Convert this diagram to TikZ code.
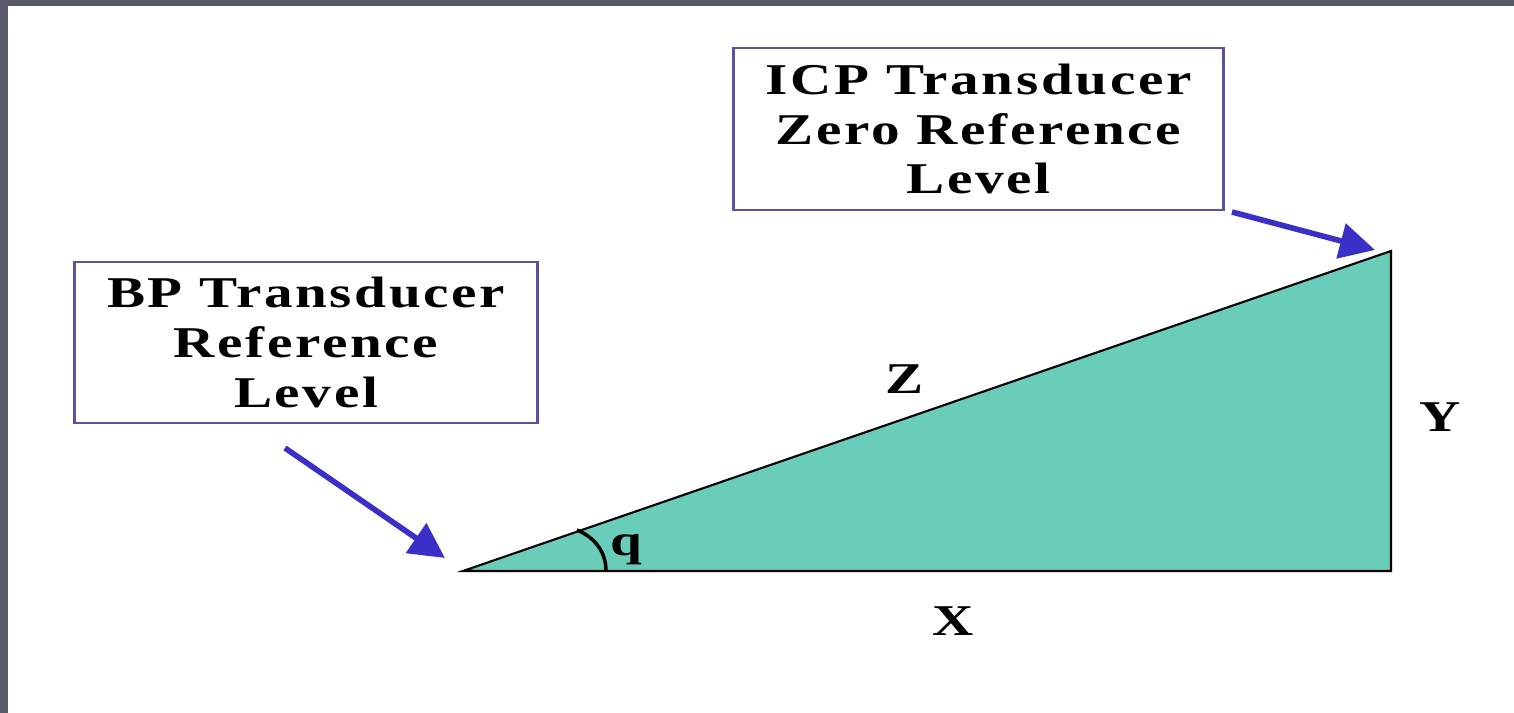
\documentclass[tikz,border=0pt]{standalone}
\usepackage{fontspec}
\setmainfont{Liberation Serif}
\newfontfamily\boxfont[LetterSpace=6,FakeStretch=1.3]{Liberation Serif}
\usetikzlibrary{arrows.meta,calc}
\definecolor{icpGray}{HTML}{585A6A}
\definecolor{icpFrame}{HTML}{5B52A3}
\definecolor{icpBlue}{HTML}{3A30C8}
\definecolor{icpTeal}{HTML}{6ACDB9}

\begin{document}
\begin{tikzpicture}[x=0.01cm,y=-0.01cm,
    font=\boxfont\bfseries\fontsize{12.5}{14.2}\selectfont,
    refbox/.style={draw=icpFrame,line width=0.8pt,align=center,inner sep=0pt},
    pointer/.style={draw=icpBlue,fill=icpBlue,line width=1.6pt,
                    -{Triangle[length=10pt,width=10pt]}},
    side/.style={inner sep=0pt,anchor=base}]
  % slide frame
  \fill[icpGray] (0,0) rectangle (1514,713);
  \fill[white] (8,6) rectangle (1514,713);
  % reference level boxes
  \node[refbox,minimum width=4.62cm,minimum height=1.61cm] (bp) at (306,342.5)
    {BP Transducer\\Reference\\Level};
  \node[refbox,minimum width=4.89cm,minimum height=1.62cm] (icp) at (978.5,129)
    {ICP Transducer\\Zero Reference\\Level};
  % triangle
  \coordinate (base) at (463,571);
  \coordinate (foot) at (1391,571);
  \coordinate (apex) at (1391,251);
  \filldraw[fill=icpTeal,draw=black,line width=0.6pt] (base) -- (foot) -- (apex) -- cycle;
  \coordinate (qa) at (577,530);
  \coordinate (qb) at (606,571);
  \draw[line width=1pt] (qa) .. controls (596,538) and (606,553) .. (qb);
  \node[side] (theta) at (626,556) {q};
  \node[side] (zlab) at (905,394) {Z};
  \node[side] (ylab) at (1440,432) {Y};
  \node[side] (xlab) at (953,636) {X};
  % pointers
  \coordinate (bpTail) at (285,448);
  \coordinate (bpTip) at (445,558);
  \coordinate (icpTail) at (1232,212);
  \coordinate (icpTip) at (1375,250);
  \draw[pointer] (bpTail) -- (bpTip);
  \draw[pointer] (icpTail) -- (icpTip);
\end{tikzpicture}
\end{document}
